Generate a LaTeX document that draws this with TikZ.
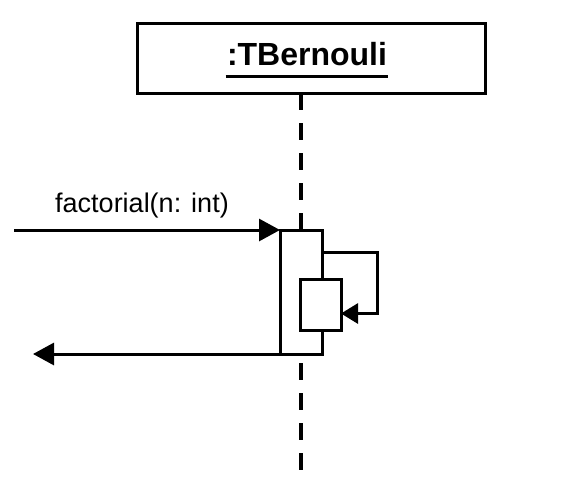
\documentclass[tikz,border=0pt]{standalone}
\usepackage{fontspec}
\setmainfont{Liberation Sans}
\usetikzlibrary{arrows.meta}

\begin{document}
\begin{tikzpicture}[
  x=1pt,y=-1pt,
  line width=3pt,
  objbox/.style={draw=black, line width=3pt, minimum width=348pt, minimum height=70pt, inner sep=0pt, outer sep=0pt},
  title/.style={font=\fontsize{32}{36}\selectfont\bfseries, inner sep=0pt},
  msglabel/.style={font=\fontsize{27}{32}\selectfont, inner sep=0pt},
  lifeline/.style={line width=3.5pt, dash pattern=on 17pt off 13pt},
  actbar/.style={draw=black, fill=white, line width=3pt, inner sep=0pt, outer sep=0pt},
  msg/.style={-{Triangle[length=21pt,width=22pt]}, line width=3pt},
  selfmsg/.style={-{Triangle[length=17pt,width=20pt]}, line width=3pt}
]
\useasboundingbox (0,0) rectangle (584,480);

% Object head
\node[objbox] (obj) at (311,58) {};
\node[title, anchor=base] (objname) at (307,65) {:TBernouli};
\draw ([yshift=-10pt]objname.south west) -- ([yshift=-10pt]objname.south east);

% Lifeline
\coordinate (lifeend) at (301,472);
\draw[lifeline] (obj.south -| lifeend) -- (lifeend);

% Activations
\node[actbar, minimum width=42pt, minimum height=124pt] (act) at (301,292) {};
\node[actbar, minimum width=41pt, minimum height=51pt] (inner) at (320.5,304.5) {};

% Messages
\coordinate (caller) at (14,230);
\coordinate (retend) at (33,352);
\draw[msg] (caller) -- (act.north west);
\node[msglabel, anchor=base] (msgname) at (142,212) {factorial(n: int)};
\draw[msg] (act.south west) -- (act.south west -| retend);
\draw[selfmsg] ([yshift=-22pt]act.north east) -- ++(55,0) |- ([yshift=-9pt]inner.east);

\end{tikzpicture}
\end{document}
